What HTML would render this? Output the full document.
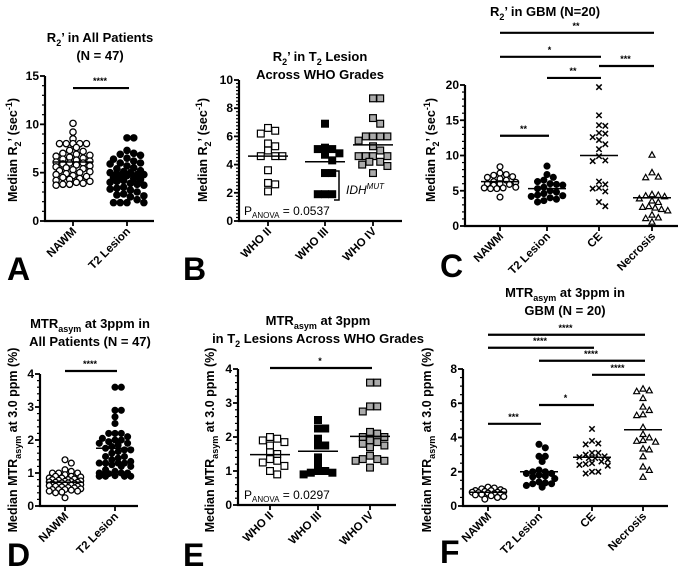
<!DOCTYPE html>
<html><head><meta charset="utf-8"><style>
html,body{margin:0;padding:0;background:#fff}
svg{display:block;font-family:"Liberation Sans",Arial,sans-serif}
</style></head><body>
<svg id="fig" width="685" height="568" viewBox="0 0 685 568" xmlns="http://www.w3.org/2000/svg"></svg>
<script>
// ---------- DATA ----------
const catsA=["NAWM","T2 Lesion"];
const aNAWM=[10.1,9.2,8.5,8.0,8.0,8.0,8.0,8.0,7.6,7.3,7.2,7.0,6.9,6.8,6.7,6.6,6.5,6.4,6.3,6.2,6.1,6.0,6.0,5.9,5.8,5.7,5.6,5.5,5.4,5.3,5.2,5.1,5.0,4.9,4.8,4.7,4.6,4.5,4.4,4.3,4.2,4.1,4.0,3.9,3.8,3.8,3.7];
const aT2=[8.6,8.6,7.3,7.0,6.9,6.8,6.5,6.4,6.2,6.0,6.0,5.9,5.7,5.5,5.4,5.2,5.1,5.0,5.0,4.9,4.8,4.8,4.7,4.6,4.5,4.4,4.3,4.2,4.1,4.0,3.9,3.8,3.7,3.5,3.4,3.3,3.2,3.0,2.8,2.7,2.6,2.5,2.2,1.9,1.9,1.9,1.9];
const aMedians=[6.1,4.8];
const catsB=["WHO II","WHO III","WHO IV"];
const bII=[6.6,6.4,6.2,5.5,5.3,5.0,4.6,4.6,4.6,3.6,2.7,2.6,2.1];
const bIII=[6.9,5.2,5.1,5.1,4.8,4.7,4.3,3.4,3.4,1.9,1.9,1.9];
const bIV=[8.7,8.7,7.3,6.9,6.0,6.0,6.0,6.0,5.7,5.3,5.0,4.6,4.6,4.6,4.6,4.2,4.2,4.0,3.9,3.4];
const bMedians=[4.6,4.2,5.4];
const catsC=["NAWM","T2 Lesion","CE","Necrosis"];
const cNAWM=[8.4,7.5,7.3,7.2,7.0,6.9,6.7,6.5,6.3,6.2,6.0,6.0,5.9,5.8,5.5,5.4,5.4,5.3,5.3,4.1];
const cT2=[8.5,7.3,6.9,6.5,6.3,6.0,5.9,5.8,5.5,5.3,5.0,4.8,4.6,4.4,4.3,4.2,4.0,3.8,3.6,3.4];
const cCE=[19.7,15.7,14.3,14.2,13.2,13.1,12.6,12.2,11.6,10.9,9.9,9.3,9.2,6.3,5.9,5.4,5.3,4.9,3.4,2.8];
const cNec=[10.1,7.6,7.0,6.9,4.5,4.4,4.3,4.2,3.9,3.6,3.4,2.8,2.7,2.6,2.4,2.2,1.6,1.2,1.1,0.6];
const cMedians=[6.3,5.3,10.0,4.0];
const dNAWM=[1.4,1.3,1.1,1.05,1.0,1.0,1.0,0.95,0.9,0.9,0.88,0.85,0.85,0.82,0.8,0.8,0.78,0.76,0.75,0.74,0.73,0.72,0.72,0.7,0.7,0.68,0.67,0.66,0.65,0.64,0.63,0.62,0.6,0.6,0.58,0.56,0.55,0.52,0.5,0.5,0.5,0.48,0.45,0.45,0.42,0.4,0.25];
const dT2=[3.6,3.6,2.9,2.9,2.7,2.5,2.2,2.2,2.2,2.1,2.05,2.0,2.0,1.95,1.9,1.9,1.85,1.8,1.75,1.7,1.7,1.65,1.6,1.5,1.5,1.45,1.4,1.35,1.3,1.3,1.3,1.3,1.25,1.2,1.2,1.1,1.05,1.0,1.0,1.0,0.98,0.95,0.92,0.9,0.9,0.9,0.9];
const dMedians=[0.72,1.75];
const eII=[2.0,1.95,1.9,1.85,1.75,1.55,1.5,1.35,1.3,1.25,1.15,1.0,0.9];
const eIII=[2.5,2.25,2.25,1.95,1.75,1.75,1.4,1.2,1.0,1.0,0.95,0.95,0.9];
const eIV=[3.6,3.6,2.9,2.9,2.75,2.15,2.1,2.0,2.0,1.9,1.85,1.8,1.75,1.7,1.45,1.35,1.35,1.3,1.3,1.1];
const eMedians=[1.48,1.58,2.02];
const fNAWM=[1.1,1.05,1.0,0.95,0.9,0.9,0.85,0.85,0.8,0.8,0.78,0.75,0.72,0.7,0.68,0.65,0.6,0.55,0.5,0.4];
const fT2=[3.6,3.4,2.9,2.9,2.6,2.1,2.0,2.0,1.9,1.9,1.8,1.75,1.7,1.6,1.4,1.35,1.3,1.3,1.2,1.1];
const fCE=[4.5,3.8,3.65,3.6,3.1,3.1,3.0,2.9,2.85,2.8,2.8,2.7,2.6,2.5,2.45,2.4,2.35,2.0,2.0,1.9];
const fNec=[6.85,6.75,6.7,6.3,5.8,5.6,5.35,5.3,4.6,4.2,4.0,3.85,3.8,3.75,3.35,3.3,2.9,2.3,2.1,1.7];
const fMedians=[0.8,2.0,2.85,4.45];
// significance bars: [fromCat, toCat, yValue, label]
const sigA=[[0,1,13.75,"****"]];
const sigC=[[0,3,27.4,"**"],[0,2,24.0,"*"],[2,3,22.7,"***"],[1,2,21.0,"**"],[0,1,12.8,"**"]];
const sigD=[[0,1,4.09,"****"]];
const sigE=[[0,2,4.03,"*"]];
const sigF=[[0,3,10.0,"****"],[0,2,9.24,"****"],[1,3,8.48,"****"],[2,3,7.66,"****"],[1,2,5.9,"*"],[0,1,4.8,"***"]];

// ---------- DRAWING ----------
const NS="http://www.w3.org/2000/svg";
const svg=document.getElementById('fig');
function mk(tag,attrs,parent){const e=document.createElementNS(NS,tag);for(const k in attrs)e.setAttribute(k,attrs[k]);(parent||svg).appendChild(e);return e;}

function marker(g,type,x,y,s){
  let e;
  if(type==='oc'||type==='fc'){e=mk('circle',{cx:x,cy:y,r:s/2-0.6,fill:type==='fc'?'#000':'#fff',stroke:'#000','stroke-width':1.3},g);}
  else if(type==='os'||type==='fs'||type==='gs'){e=mk('rect',{x:x-s/2+0.6,y:y-s/2+0.6,width:s-1.2,height:s-1.2,fill:type==='fs'?'#000':(type==='gs'?'#aaa':'#fff'),stroke:'#000','stroke-width':1.2},g);}
  else if(type==='x'){const h=s/2-0.8;e=mk('path',{d:`M${x-h},${y-h}L${x+h},${y+h}M${x-h},${y+h}L${x+h},${y-h}`,stroke:'#000','stroke-width':1.5,fill:'none'},g);}
  else {const h=s/2-0.5;e=mk('path',{d:`M${x},${y-h}L${x+h},${y+h*0.8}L${x-h},${y+h*0.8}Z`,fill:'#fff',stroke:'#000','stroke-width':1.2},g);}
  
  
}

function panel(p){
  const g=mk('g',{});
  
  
  const ys=v=>p.y0-(v-p.ymin)/(p.ymax-p.ymin)*(p.y0-p.y1);
  const ax=mk('path',{d:`M${p.x0},${p.y1}V${p.y0}H${p.xEnd}`,stroke:'#000','stroke-width':2.2,fill:'none'},g);
  
  
  for(let v=p.ymin;v<=p.ymax+1e-9;v+=p.minor){
    const isMaj=Math.abs(Math.round(v/p.major)*p.major-v)<1e-6;
    const yy=ys(v);
    mk('line',{x1:p.x0-(isMaj?5:3),x2:p.x0,y1:yy,y2:yy,stroke:'#000','stroke-width':isMaj?1.8:1.2},g);
    if(isMaj){const t=mk('text',{x:p.x0-6,y:yy+4,'text-anchor':'end','font-size':12,'font-weight':'bold'},g);t.textContent=String(+v.toFixed(2));
      
      }
  }
  p.cats.forEach((c,i)=>{
    const cx=p.cx[i];
    mk('line',{x1:cx,x2:cx,y1:p.y0,y2:p.y0+5,stroke:'#000','stroke-width':1.8},g);
    const t=mk('text',{x:0,y:0,'text-anchor':'end','font-size':11.5,'font-weight':'bold',transform:`translate(${cx+4},${p.y0+11}) rotate(-45)`},g);
    t.textContent=c;
    
    
    const vals=p.series[i].slice().sort((a,b)=>b-a);
    const s=p.ms, placed=[];
    const maxOff=p.mw-s/2+1;
    const cand=[0];for(let j=1;j<40;j++){const o=j*s*0.45;if(o>maxOff)break;cand.push(o,-o);}
    vals.forEach(v=>{
      const yy=ys(v);
      let best=0,bestD=-1,off=null;
      for(const o of cand){
        let md=Infinity;placed.forEach(q=>{md=Math.min(md,Math.hypot(q[0]-o,q[1]-yy));});
        if(md>=s*0.85){off=o;break;}
        if(md>bestD){bestD=md;best=o;}
      }
      if(off===null)off=best;
      placed.push([off,yy]);
      marker(g,p.mk[i],cx+off,yy,s);
    });
    const my=ys(p.medians[i]);
    const ml=mk('line',{x1:cx-p.mw,x2:cx+p.mw,y1:my,y2:my,stroke:'#000','stroke-width':1.5},g);
    
    
  });
  (p.sig||[]).forEach(sg=>{
    const yy=ys(sg[2]);
    const l=mk('line',{x1:p.cx[sg[0]],x2:p.cx[sg[1]]+2,y1:yy,y2:yy,stroke:'#000','stroke-width':2.2},g);
    
    
    const t=mk('text',{x:(p.cx[sg[0]]+p.cx[sg[1]])/2,y:yy-4,'text-anchor':'middle','font-size':9,'font-weight':'bold'},g);
    t.textContent=sg[3];
    
    
  });
  p.title.forEach((ln,k)=>{
    const t=mk('text',{x:p.tx,y:p.ty+k*18,'text-anchor':'middle','font-size':13,'font-weight':'bold'},g);
    t.innerHTML=ln;
    
    
  });
  const yt=mk('text',{x:0,y:0,'text-anchor':'middle','font-size':12.5,'font-weight':'bold',transform:`translate(${p.ytx},${p.yty}) rotate(-90)`},g);
  yt.innerHTML=p.ytitle;
  
  
  const L=mk('text',{x:p.lx,y:p.ly,'font-size':32,'font-weight':'bold'},g);
  L.textContent=p.letter;
  
  
  return {g,ys};
}

const R2T='Median R<tspan font-size="9" dy="4">2</tspan><tspan dy="-4">\u2019 (sec</tspan><tspan font-size="9" dy="-5">-1</tspan><tspan dy="5">)</tspan>';
const MTRT='Median MTR<tspan font-size="9" dy="4">asym</tspan><tspan dy="-4"> at 3.0 ppm (%)</tspan>';

panel({name:'panel-a',letter:'A',lx:7,ly:280,x0:45,xEnd:154,y0:221,y1:76,ymin:0,ymax:15,major:5,minor:1,
  cats:catsA,cx:[73,127],series:[aNAWM,aT2],medians:aMedians,mk:['oc','fc'],ms:7.5,mw:20,sig:sigA,
  title:['R<tspan font-size="9" dy="4">2</tspan><tspan dy="-4">\u2019 in All Patients</tspan>','(N = 47)'],tx:100,ty:42,
  ytitle:R2T,ytx:17,yty:150});
panel({name:'panel-b',letter:'B',lx:183,ly:280,x0:239,xEnd:402,y0:221,y1:80,ymin:0,ymax:10,major:2,minor:0.25,
  cats:catsB,cx:[268,325,373],series:[bII,bIII,bIV],medians:bMedians,mk:['os','fs','gs'],ms:8,mw:20,
  title:['R<tspan font-size="9" dy="4">2</tspan><tspan dy="-4">\u2019  in T</tspan><tspan font-size="9" dy="4">2</tspan><tspan dy="-4"> Lesion</tspan>','Across WHO Grades'],tx:320,ty:61,
  ytitle:R2T,ytx:207,yty:150});
{const t=mk('text',{x:244,y:215,'font-size':12});t.innerHTML='P<tspan font-size="8" dy="3">ANOVA</tspan><tspan dy="-3"> = 0.0537</tspan>';
 
 
 const br=mk('path',{d:'M334,171H339V200H334',stroke:'#000','stroke-width':1.5,fill:'none'});
 
 
 const t2=mk('text',{x:346,y:194,'font-size':12,'font-style':'italic'});t2.innerHTML='IDH<tspan font-size="8" dy="-5">MUT</tspan>';
 
 }
panel({name:'panel-c',letter:'C',lx:440,ly:277,x0:465,xEnd:678,y0:226,y1:85,ymin:0,ymax:20,major:5,minor:1,
  cats:catsC,cx:[500,547,599,652],series:[cNAWM,cT2,cCE,cNec],medians:cMedians,mk:['oc','fc','x','tri'],ms:7,mw:19,sig:sigC,
  title:['R<tspan font-size="9" dy="4">2</tspan><tspan dy="-4">\u2019  in GBM (N=20)</tspan>'],tx:545,ty:16,
  ytitle:R2T,ytx:435,yty:150});
panel({name:'panel-d',letter:'D',lx:7,ly:566,x0:40,xEnd:138,y0:506,y1:374,ymin:0,ymax:4,major:1,minor:0.2,
  cats:catsA,cx:[65,115],series:[dNAWM,dT2],medians:dMedians,mk:['oc','fc'],ms:7,mw:19,sig:sigD,
  title:['MTR<tspan font-size="9" dy="4">asym</tspan><tspan dy="-4"> at 3ppm in</tspan>','All Patients (N = 47)'],tx:90,ty:328,
  ytitle:MTRT,ytx:17,yty:440});
panel({name:'panel-e',letter:'E',lx:183,ly:566,x0:238,xEnd:396,y0:505,y1:369,ymin:0,ymax:4,major:1,minor:0.2,
  cats:catsB,cx:[270,318,370],series:[eII,eIII,eIV],medians:eMedians,mk:['os','fs','gs'],ms:8,mw:20,sig:sigE,
  title:['MTR<tspan font-size="9" dy="4">asym</tspan><tspan dy="-4"> at 3ppm</tspan>','in T<tspan font-size="9" dy="4">2</tspan><tspan dy="-4"> Lesions Across WHO Grades</tspan>'],tx:318,ty:325,
  ytitle:MTRT,ytx:214,yty:440});
{const t=mk('text',{x:244,y:499,'font-size':12});t.innerHTML='P<tspan font-size="8" dy="3">ANOVA</tspan><tspan dy="-3"> = 0.0297</tspan>';
 
 }
panel({name:'panel-f',letter:'F',lx:440,ly:563,x0:463,xEnd:668,y0:506,y1:369,ymin:0,ymax:8,major:2,minor:0.5,
  cats:catsC,cx:[488,539,592,643],series:[fNAWM,fT2,fCE,fNec],medians:fMedians,mk:['oc','fc','x','tri'],ms:7,mw:19,sig:sigF,
  title:['MTR<tspan font-size="9" dy="4">asym</tspan><tspan dy="-4"> at 3ppm in</tspan>','GBM (N = 20)'],tx:565,ty:297,
  ytitle:MTRT,ytx:431,yty:440});
</script>
</body></html>
